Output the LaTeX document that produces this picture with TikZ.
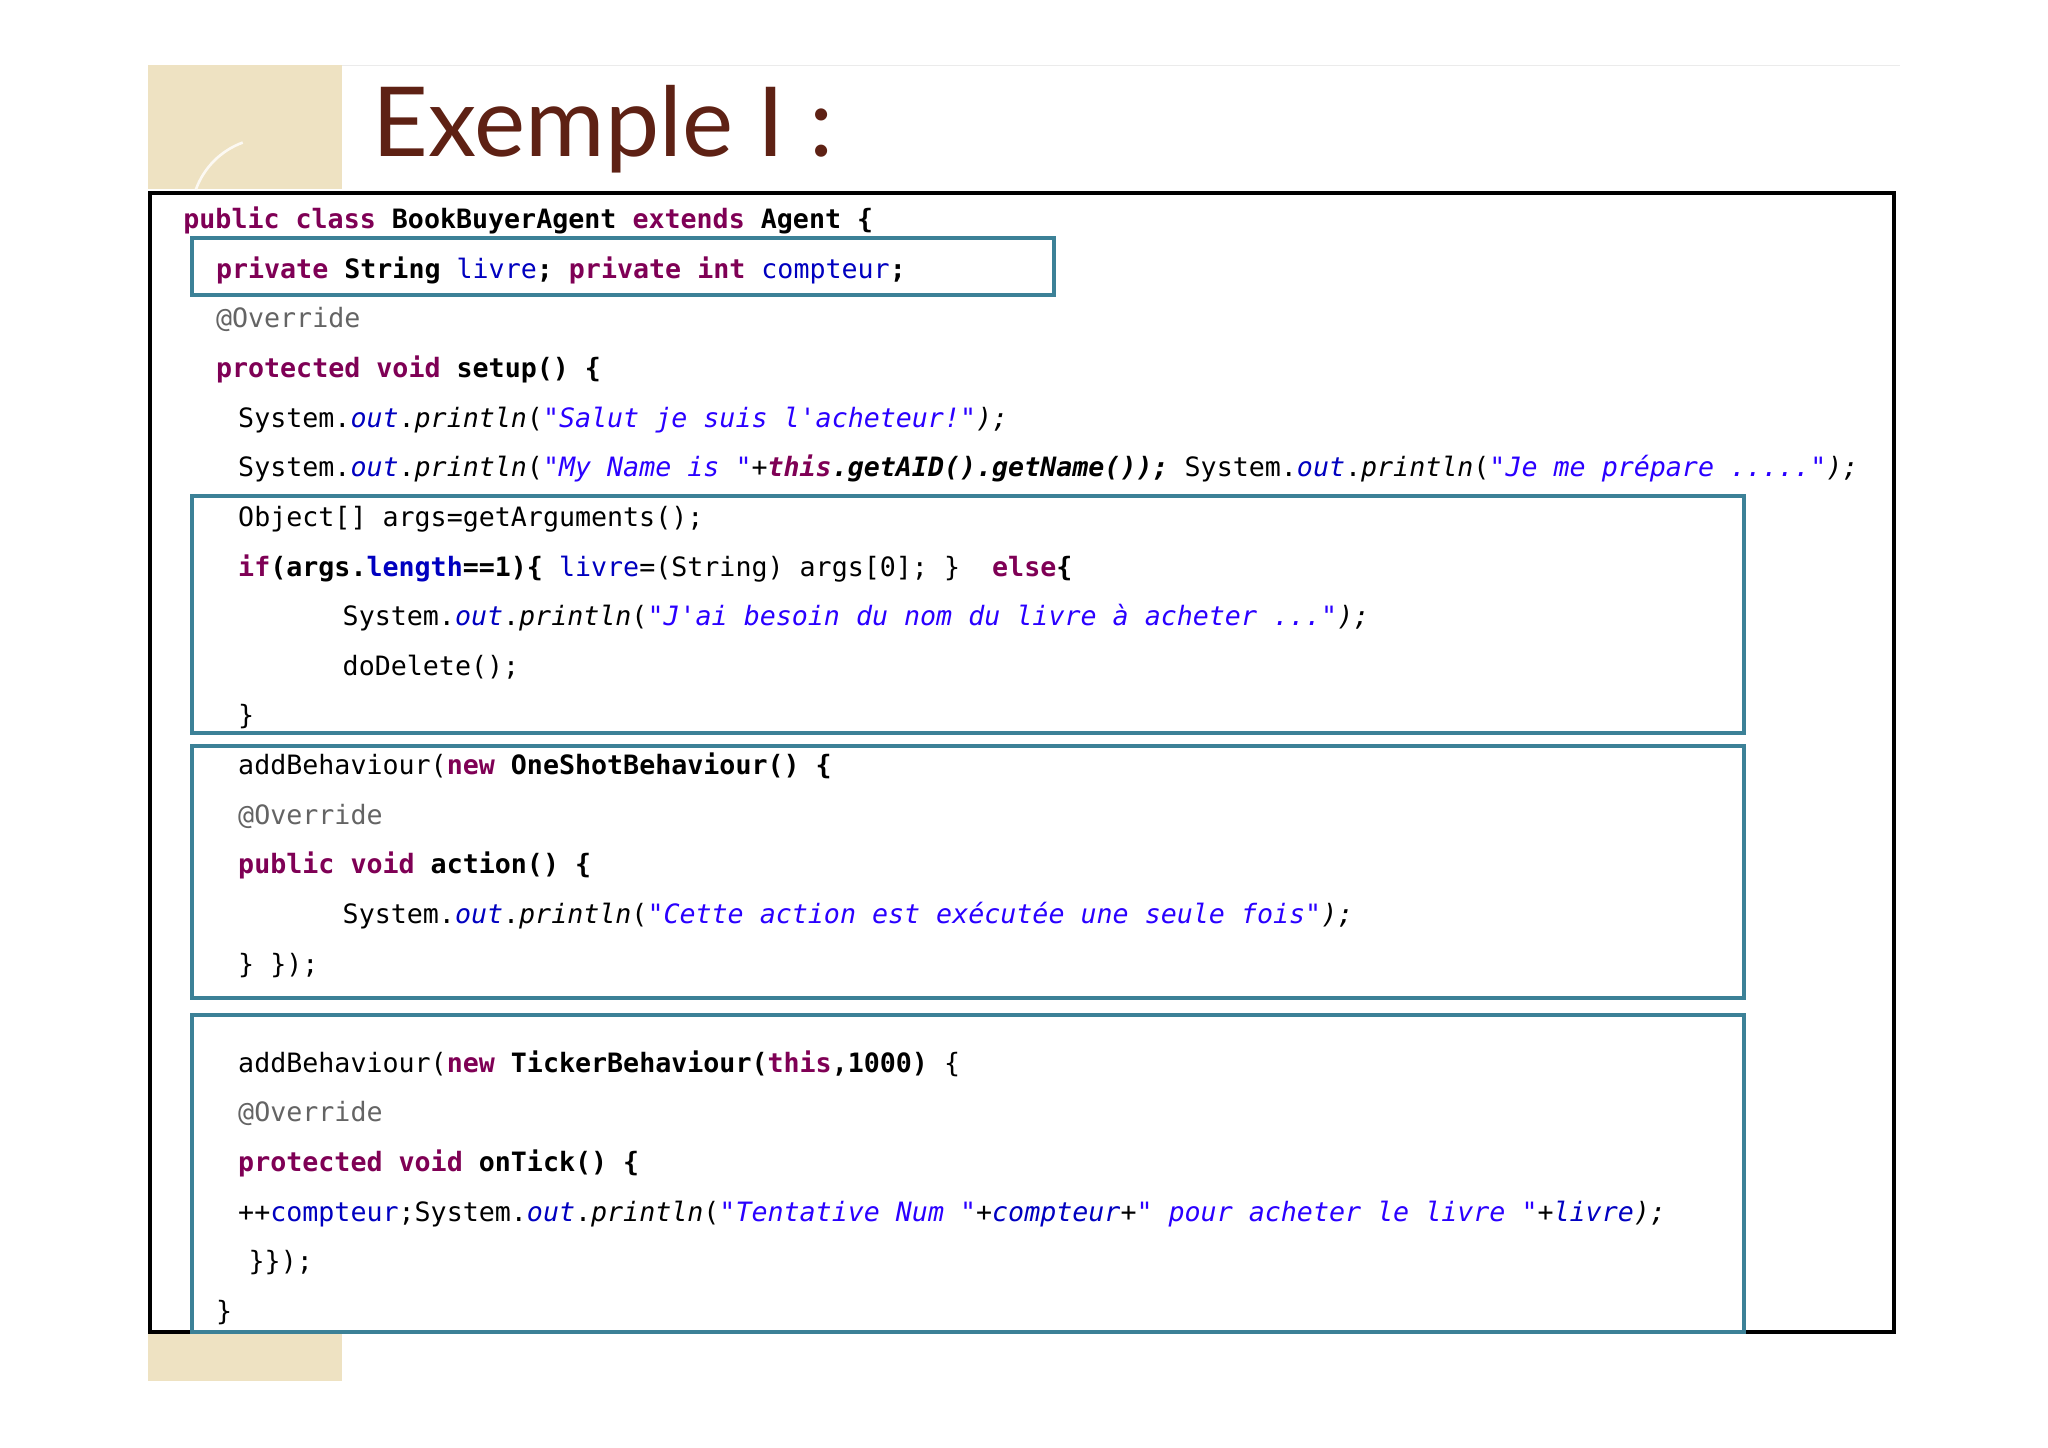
\documentclass[tikz,border=0pt]{standalone}
\usepackage{fontspec}
\setmonofont{DejaVu Sans Mono}
\newfontfamily\titlefont{Lato}
\definecolor{kwc}{HTML}{7F0055}
\definecolor{fdc}{HTML}{0000C0}
\definecolor{stc}{HTML}{2A00FF}
\definecolor{anc}{HTML}{646464}
\definecolor{tealc}{HTML}{3C8197}
\definecolor{titc}{HTML}{5E2114}
\definecolor{beige}{HTML}{EEE2C2}
\newcommand{\jk}[1]{{\color{kwc}\bfseries #1}}
\newcommand{\jf}[1]{{\color{fdc}#1}}
\newcommand{\jfi}[1]{{\color{fdc}\itshape #1}}
\newcommand{\js}[1]{{\color{stc}\itshape #1}}
\newcommand{\ja}[1]{{\color{anc}#1}}
\newcommand{\ji}[1]{{\itshape #1}}
\newcommand{\jb}[1]{{\bfseries #1}}
\begin{document}
\begin{tikzpicture}[x=0.5pt,y=-0.5pt,
  code/.style={anchor=base west,inner sep=0pt,font=\ttfamily\fontsize{10.2}{12}\selectfont},
  hbox/.style={draw=tealc,line width=1.6pt}]
\useasboundingbox (0,0) rectangle (1568,1108);
\fill[white] (0,0) rectangle (1568,1108);
\fill[beige] (113,50) rectangle (262,145);
\draw[white!80!beige,line width=1pt] (150,145) arc[start angle=200,end angle=250,radius=60];
\fill[beige] (113,1020) rectangle (262,1057);
\draw[black!8,line width=0.5pt] (262,50) -- (1455,50);
\node[anchor=base west,inner sep=0pt,text=titc,font=\titlefont\fontsize{37}{40}\selectfont] (title) at (285,120) {Exemple I :};
\draw[line width=1.5pt] (115,148) rectangle (1450,1020);
\draw[hbox] (147,182) rectangle (807,226);
\draw[hbox] (147,380) rectangle (1335,561);
\draw[hbox] (147,571) rectangle (1335,764);
\draw[hbox] (147,777) rectangle (1335,1020);
\node[code] (l1) at (140,175) {\jk{public class} \jb{BookBuyerAgent} \jk{extends} \jb{Agent \{}};
\node[code] (l2) at (165,213) {\jk{private} \jb{String} \jf{livre}\jb{;} \jk{private int} \jf{compteur}\jb{;}};
\node[code] (l3) at (165,251) {\ja{@Override}};
\node[code] (l4) at (165,289) {\jk{protected void} \jb{setup() \{}};
\node[code] (l5) at (182,327) {System.\jfi{out}.\ji{println}(\js{"Salut je suis l'acheteur!"}\ji{);}};
\node[code] (l6) at (182,365) {System.\jfi{out}.\ji{println}(\js{"My Name is "}\ji{+}\jk{\itshape this}\jb{\itshape .getAID().getName());} System.\jfi{out}.\ji{println}(\js{"Je me prépare ....."}\ji{);}};
\node[code] (l7) at (182,403) {Object[] args=getArguments();};
\node[code] (l8) at (182,441) {\jk{if}\jb{(args.}\jf{\bfseries length}\jb{==1)\{} \jf{livre}=(String) args[0]; \}~ \jk{else}\jb{\{}};
\node[code] (l9) at (262,479) {System.\jfi{out}.\ji{println}(\js{"J'ai besoin du nom du livre à acheter ..."}\ji{);}};
\node[code] (l10) at (262,517) {doDelete();};
\node[code] (l11) at (182,555) {\}};
\node[code] (l12) at (182,593) {addBehaviour(\jk{new} \jb{OneShotBehaviour() \{}};
\node[code] (l13) at (182,631) {\ja{@Override}};
\node[code] (l14) at (182,669) {\jk{public void} \jb{action() \{}};
\node[code] (l15) at (262,707) {System.\jfi{out}.\ji{println}(\js{"Cette action est exécutée une seule fois"}\ji{);}};
\node[code] (l16) at (182,745) {\} \});};
\node[code] (l17) at (182,821) {addBehaviour(\jk{new} \jb{TickerBehaviour(}\jk{this}\jb{,1000)} \{};
\node[code] (l18) at (182,859) {\ja{@Override}};
\node[code] (l19) at (182,897) {\jk{protected void} \jb{onTick() \{}};
\node[code] (l20) at (182,935) {++\jf{compteur};System.\jfi{out}.\ji{println}(\js{"Tentative Num "}\ji{+}\jfi{compteur}\ji{+}\js{" pour acheter le livre "}\ji{+}\jfi{livre}\ji{);}};
\node[code] (l21) at (190,973) {\}\});};
\node[code] (l22) at (165,1011) {\}};
\end{tikzpicture}
\end{document}
